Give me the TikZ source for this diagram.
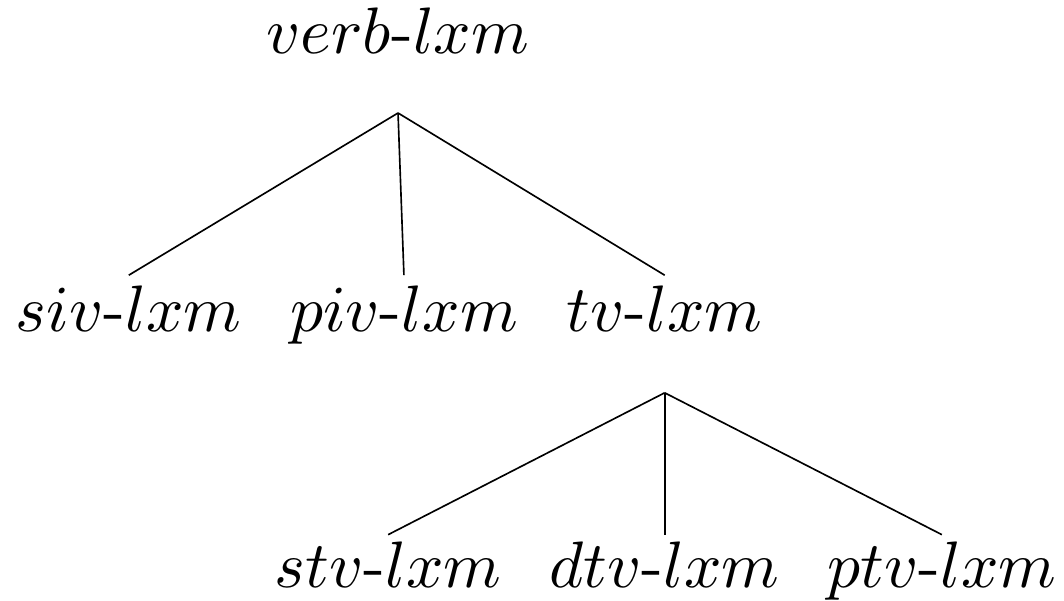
\documentclass[tikz,border=0pt]{standalone}
\usepackage{amsmath,amssymb}
\usepackage{tikz}
\usetikzlibrary{positioning}

\begin{document}
\begin{tikzpicture}[x=1pt, y=1pt, every node/.style={anchor=base, inner sep=0pt, font=\normalsize}, branch/.style={line width=0.25pt}]
  \useasboundingbox (0,0) rectangle (162,-91.5);
  \node (verb) at (60.6,-8.1) {$verb$-$lxm$};
  \node (siv) at (19.6,-50.5) {$siv$-$lxm$};
  \node (piv) at (61.5,-50.5) {$piv$-$lxm$};
  \node (tv) at (101.2,-50.5) {$tv$-$lxm$};
  \node (stv) at (59.1,-89.5) {$stv$-$lxm$};
  \node (dtv) at (101.2,-89.5) {$dtv$-$lxm$};
  \node (ptv) at (143.4,-89.5) {$ptv$-$lxm$};

  \draw[branch] ([yshift=-9.1pt]verb.base) -- ([yshift=8.6pt]siv.base);
  \draw[branch] ([yshift=-9.1pt]verb.base) -- ([yshift=8.6pt]piv.base);
  \draw[branch] ([yshift=-9.1pt]verb.base) -- ([yshift=8.6pt]tv.base);
  \draw[branch] ([yshift=-9.3pt]tv.base) -- ([yshift=8.1pt]stv.base);
  \draw[branch] ([yshift=-9.3pt]tv.base) -- ([yshift=8.1pt]dtv.base);
  \draw[branch] ([yshift=-9.3pt]tv.base) -- ([yshift=8.1pt]ptv.base);
\end{tikzpicture}
\end{document}
